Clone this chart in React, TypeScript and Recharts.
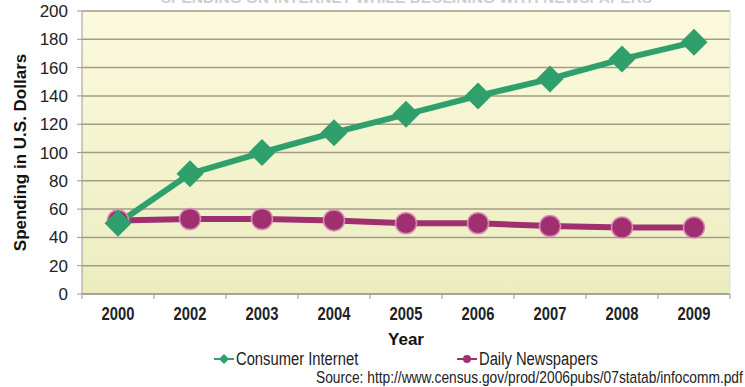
import { LineChart, Line, XAxis, YAxis, CartesianGrid, Legend } from 'recharts'

const years = ['2000', '2002', '2003', '2004', '2005', '2006', '2007', '2008', '2009']
const consumerInternet = [50, 85, 100, 114, 127, 140, 152, 166, 178]
const dailyNewspapers = [52, 53, 53, 52, 50, 50, 48, 47, 47]
const yTicks = [0, 20, 40, 60, 80, 100, 120, 140, 160, 180, 200]

const GREEN = '#2f9f6c'
const MAGENTA = '#a02f70'

const data = years.map((year, i) => ({
  year,
  internet: consumerInternet[i],
  newspapers: dailyNewspapers[i],
}))

const W = 745
const H = 387
const Y_AXIS_W = 82
const RIGHT_W = 15
const STEP = (W - Y_AXIS_W - RIGHT_W) / years.length

// no narrow face installed, so squeeze Liberation Sans horizontally
const NARROW = 0.82
const sans = '"Liberation Sans", Arial, sans-serif'

function Diamond({ cx, cy, r, fill }: { cx?: number; cy?: number; r: number; fill: string }) {
  if (cx == null || cy == null) return null
  return <path d={`M${cx},${cy - r}L${cx + r},${cy}L${cx},${cy + r}L${cx - r},${cy}Z`} fill={fill} />
}

function YearTick({ x, y, payload, index }: any) {
  return (
    <g>
      <line x1={x + STEP / 2} x2={x + STEP / 2} y1={y} y2={y + 5} stroke="#999" />
      {index === 0 && <line x1={x - STEP / 2} x2={x - STEP / 2} y1={y} y2={y + 5} stroke="#999" />}
      <text
        transform={`translate(${x},${y + 26}) scale(${NARROW},1)`}
        textAnchor="middle"
        fontFamily={sans}
        fontWeight="bold"
        fontSize={18}
        fill="#222"
      >
        {payload.value}
      </text>
    </g>
  )
}

const squeezed = { display: 'inline-block', transform: `scaleX(${NARROW})`, transformOrigin: 'left center' } as const

function LegendContent() {
  return (
    <div style={{ display: 'flex', paddingLeft: 213, fontFamily: sans, fontSize: 18, color: '#222', lineHeight: '20px' }}>
      <div style={{ display: 'flex', alignItems: 'center', width: 243, whiteSpace: 'nowrap' }}>
        <svg width={22} height={12} style={{ marginRight: 1 }}>
          <line x1={1} x2={21} y1={6} y2={6} stroke={GREEN} strokeWidth={2} />
          <path d="M11,1L16,6L11,11L6,6Z" fill={GREEN} />
        </svg>
        <span style={squeezed}>Consumer Internet</span>
      </div>
      <div style={{ display: 'flex', alignItems: 'center', whiteSpace: 'nowrap' }}>
        <svg width={22} height={12} style={{ marginRight: 1 }}>
          <line x1={1} x2={21} y1={6} y2={6} stroke={MAGENTA} strokeWidth={2} />
          <circle cx={11} cy={6} r={4} fill={MAGENTA} />
        </svg>
        <span style={squeezed}>Daily Newspapers</span>
      </div>
    </div>
  )
}

export default function App() {
  return (
    <div style={{ position: 'absolute', left: 0, top: 0, width: W, height: H, background: '#fff', overflow: 'hidden' }}>
      <div
        style={{
          position: 'absolute',
          left: 34,
          width: W,
          top: -11,
          textAlign: 'center',
          fontFamily: sans,
          fontWeight: 'bold',
          fontSize: 15.5,
          lineHeight: '18px',
          color: '#cfcfcf',
          whiteSpace: 'nowrap',
        }}
      >
        SPENDING ON INTERNET WHILE DECLINING WITH NEWSPAPERS
      </div>
      <LineChart width={W} height={H} data={data} margin={{ top: 11, right: 0, bottom: 0, left: 0 }}>
        <defs>
          <linearGradient id="plotBg" x1="0" y1="0" x2="0" y2="1">
            <stop offset="0%" stopColor="#fcfade" />
            <stop offset="100%" stopColor="#ebedc0" />
          </linearGradient>
        </defs>
        <CartesianGrid vertical={false} fill="url(#plotBg)" stroke="#a39b86" strokeWidth={1.5} />
        <XAxis
          dataKey="year"
          height={H - 294}
          padding={{ left: STEP / 2, right: STEP / 2 }}
          tickLine={false}
          tickSize={0}
          tickMargin={0}
          axisLine={{ stroke: '#999' }}
          tick={<YearTick />}
          interval={0}
          label={{
            value: 'Year',
            position: 'insideTop',
            offset: 39,
            style: { fontFamily: sans, fontWeight: 'bold', fontSize: 17, fill: '#111' },
          }}
        />
        <YAxis
          width={Y_AXIS_W}
          domain={[0, 200]}
          ticks={yTicks}
          interval={0}
          axisLine={{ stroke: '#999' }}
          tickLine={{ stroke: '#999' }}
          tickSize={5}
          tickMargin={9}
          tick={{ fontFamily: sans, fontSize: 17, fill: '#222' }}
          label={({ viewBox }: any) => (
            <text
              x={0}
              y={0}
              transform={`translate(${viewBox.x + 26},${viewBox.y + viewBox.height / 2}) rotate(-90)`}
              textAnchor="middle"
              fontFamily={sans}
              fontWeight="bold"
              fontSize={17}
              fill="#111"
            >
              Spending in U.S. Dollars
            </text>
          )}
        />
        <YAxis yAxisId="right" orientation="right" width={RIGHT_W} tick={false} tickLine={false} axisLine={{ stroke: '#ddd' }} />
        <Legend
          layout="horizontal"
          verticalAlign="middle"
          align="center"
          wrapperStyle={{ top: 349, left: 0, width: W }}
          content={<LegendContent />}
        />
        <Line
          dataKey="newspapers"
          name="Daily Newspapers"
          stroke={MAGENTA}
          strokeWidth={6}
          dot={{ r: 10.5, fill: MAGENTA, stroke: '#d88ab4', strokeWidth: 1.5 }}
          activeDot={false}
          isAnimationActive={false}
        />
        <Line
          dataKey="internet"
          name="Consumer Internet"
          stroke={GREEN}
          strokeWidth={6}
          dot={(p: any) => <Diamond key={p.index} cx={p.cx} cy={p.cy} r={13.5} fill={GREEN} />}
          activeDot={false}
          isAnimationActive={false}
        />
      </LineChart>
      <div
        style={{
          position: 'absolute',
          left: 316,
          top: 368,
          fontFamily: sans,
          fontSize: 16.8,
          lineHeight: '19px',
          color: '#222',
          whiteSpace: 'nowrap',
          ...squeezed,
        }}
      >
        Source: http://www.census.gov/prod/2006pubs/07statab/infocomm.pdf
      </div>
    </div>
  )
}
